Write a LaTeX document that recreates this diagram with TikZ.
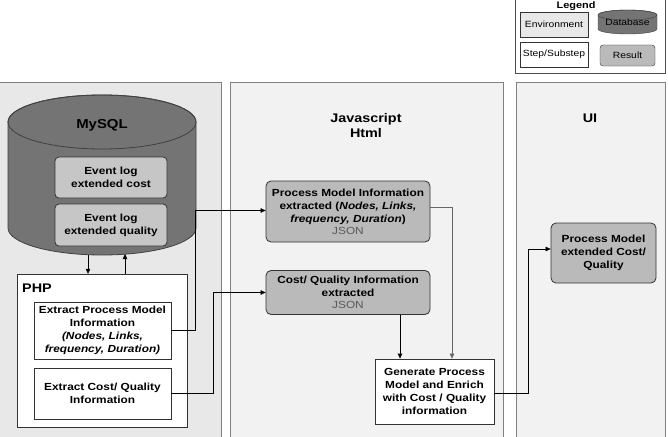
\documentclass[tikz,border=0pt]{standalone}
\usepackage{fontspec}
\setmainfont{Liberation Sans}[FakeStretch=1.15]
\usetikzlibrary{arrows.meta}
\definecolor{envdark}{HTML}{E8E8E8}
\definecolor{envlight}{HTML}{F2F2F2}
\definecolor{dbgray}{HTML}{747474}
\definecolor{resgray}{HTML}{BABABA}
\definecolor{loggray}{HTML}{C6C6C6}

\begin{document}
\begin{tikzpicture}[x=1pt,y=1pt,font=\fontsize{10.3}{13}\selectfont\bfseries]
        \tikzstyle{every node}=[inner sep=1pt, align=center]
        \tikzstyle{env}=[draw=black!50, fill=envlight]
        \tikzstyle{stepbox}=[draw=black!80, fill=white, thick]
        \tikzstyle{result}=[draw=black!80, fill=resgray, rounded corners=5pt, thick]
        \tikzstyle{logbox}=[draw=black!80, fill=loggray, rounded corners=4pt, thick]
        \tikzstyle{title}=[font=\fontsize{12.5}{15}\selectfont\bfseries]
        \tikzstyle{link}=[-{Triangle[length=5pt,width=4.5pt]}, black]
        \useasboundingbox (0,0) rectangle (668,-436);
        % environments
        \draw[env, fill=envdark] (-2,-82) rectangle (221,-440);
        \draw[env] (230,-82) rectangle (503,-440);
        \draw[env] (516,-82) rectangle (665,-440);
        \node[title] (js) at (366,-126) {Javascript\\Html};
        \node[title] (ui) at (590,-118) {UI};
        % database
        \filldraw[draw=black!75, fill=dbgray, thick] (8,-122) -- (8,-228)
            arc[start angle=180, end angle=360, x radius=94, y radius=27] -- (196,-122)
            arc[start angle=0, end angle=180, x radius=94, y radius=27] -- cycle;
        \draw[draw=black!75, thick] (102,-122) ellipse[x radius=94, y radius=27];
        \node[title, font=\fontsize{13}{15}\selectfont\bfseries] (mysql) at (102,-125) {MySQL};
        \node[logbox, minimum width=112pt, minimum height=41pt] (evc) at (111,-177.5) {Event log\\extended cost};
        \node[logbox, minimum width=112pt, minimum height=42pt] (evq) at (111,-225) {Event log\\extended quality};
        \coordinate (dbA) at (88,-255);
        \coordinate (dbB) at (125,-254);
        % php
        \node[stepbox, thin, minimum width=170pt, minimum height=153pt] (php) at (102,-350.5) {};
        \node[title, anchor=west] (phpt) at (21,-288) {PHP};
        \node[stepbox, minimum width=137pt, minimum height=57pt] (xpm) at (102.5,-330.5)
            {Extract Process Model\\Information\\\textit{(Nodes, Links,}\\\textit{frequency, Duration)}};
        \node[stepbox, minimum width=137pt, minimum height=51pt] (xcq) at (102.5,-393.5)
            {Extract Cost/ Quality\\Information};
        \draw[link] (dbA) -- (dbA |- php.north);
        \draw[link] (dbB |- php.north) -- (dbB);
        % javascript
        \node[result, minimum width=164pt, minimum height=61pt] (pmi) at (348,-211.5)
            {Process Model Information\\extracted (\textit{Nodes, Links,}\\\textit{frequency, Duration})\\[-1pt]{\mdseries\color{black!65}JSON}};
        \node[result, minimum width=164pt, minimum height=44pt] (cqi) at (348,-292.5)
            {Cost/ Quality Information\\extracted\\[-1pt]{\mdseries\color{black!65}JSON}};
        \node[stepbox, minimum width=119pt, minimum height=65pt] (gen) at (434.5,-391.5)
            {Generate Process\\Model and Enrich\\with Cost / Quality\\information};
        % ui
        \node[result, minimum width=105pt, minimum height=60pt] (pme) at (603.5,-253)
            {Process Model\\extended Cost/\\Quality};
        \coordinate (gx) at (400,0);
        \coordinate (gy) at (452,0);
        \draw[link] (xpm.east) -- ++(24,0) |- ([yshift=1pt]pmi.west);
        \draw[link] (xcq.east) -- ++(42,0) |- (cqi.west);
        \draw[link, thick] (cqi.south -| gx) -- (gen.north -| gx);
        \draw[link, black!60] ([yshift=4pt]pmi.east) -| (gen.north -| gy);
        \draw[link] ([yshift=-2pt]gen.east) -- ++(34,0) |- ([yshift=4pt]pme.west);
        % legend
        \draw[draw=black!70, fill=white] (515,10) rectangle (665,-73);
        \node[font=\fontsize{9.5}{11}\selectfont\bfseries, anchor=base] (leg) at (576,-8.5) {Legend};
        \begin{scope}[font=\fontsize{9}{11}\selectfont]
        \node[env, fill=envdark, draw=black!80, minimum width=68pt, minimum height=25pt] (lenv) at (554,-24.5) {\mdseries Environment};
        \node[stepbox, thin, minimum width=68pt, minimum height=25pt] (lstep) at (554,-54.5) {Step/Substep};
        \filldraw[draw=black!75, fill=dbgray] (598,-15) -- (598,-29)
            arc[start angle=180, end angle=360, x radius=29.5, y radius=5] -- (657,-15)
            arc[start angle=0, end angle=180, x radius=29.5, y radius=5] -- cycle;
        \draw[draw=black!75] (627.5,-15) ellipse[x radius=29.5, y radius=5];
        \node (ldb) at (627.5,-22) {\mdseries Database};
        \node[result, thin, rounded corners=3pt, minimum width=55pt, minimum height=21pt] (lres) at (627.5,-55.5) {Result};
        \end{scope}
\end{tikzpicture}
\end{document}
